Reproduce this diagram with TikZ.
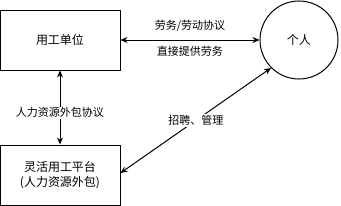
\documentclass[tikz,border=0pt]{standalone}
\usepackage{fontspec}
\setmainfont{Noto Sans CJK SC}
\usetikzlibrary{arrows.meta,positioning}

\begin{document}
\begin{tikzpicture}[x=1pt,y=-1pt,
    box/.style={draw,line width=1pt,minimum width=120pt,minimum height=60pt,
      align=center,font=\fontsize{12}{15}\selectfont},
    lbl/.style={font=\fontsize{11}{13}\selectfont,inner sep=1pt},
    link/.style={line width=1pt,{Stealth[length=7pt,width=6pt]}-{Stealth[length=7pt,width=6pt]}}]
    \useasboundingbox (0,0) rectangle (341,206);

    % Employer box
    \node[box] (unit) at (60,40) {用工单位};

    % Platform box
    \node[box] (platform) at (60,175) {灵活用工平台\\(人力资源外包)};

    % Person circle
    \node[draw,circle,line width=1pt,minimum size=78pt,
      font=\fontsize{12}{15}\selectfont] (person) at (299,40) {个人};

    % Links
    \draw[link] (unit) -- (person)
      node[lbl,midway,above=7pt] {劳务/劳动协议}
      node[lbl,midway,below=5pt] {直接提供劳务};
    \draw[link] (unit) -- (platform)
      node[lbl,pos=0.57,fill=white] {人力资源外包协议};
    \draw[link] ([yshift=2pt]platform.east) -- (person.225)
      node[lbl,midway,fill=white] {招聘、管理};
\end{tikzpicture}
\end{document}
